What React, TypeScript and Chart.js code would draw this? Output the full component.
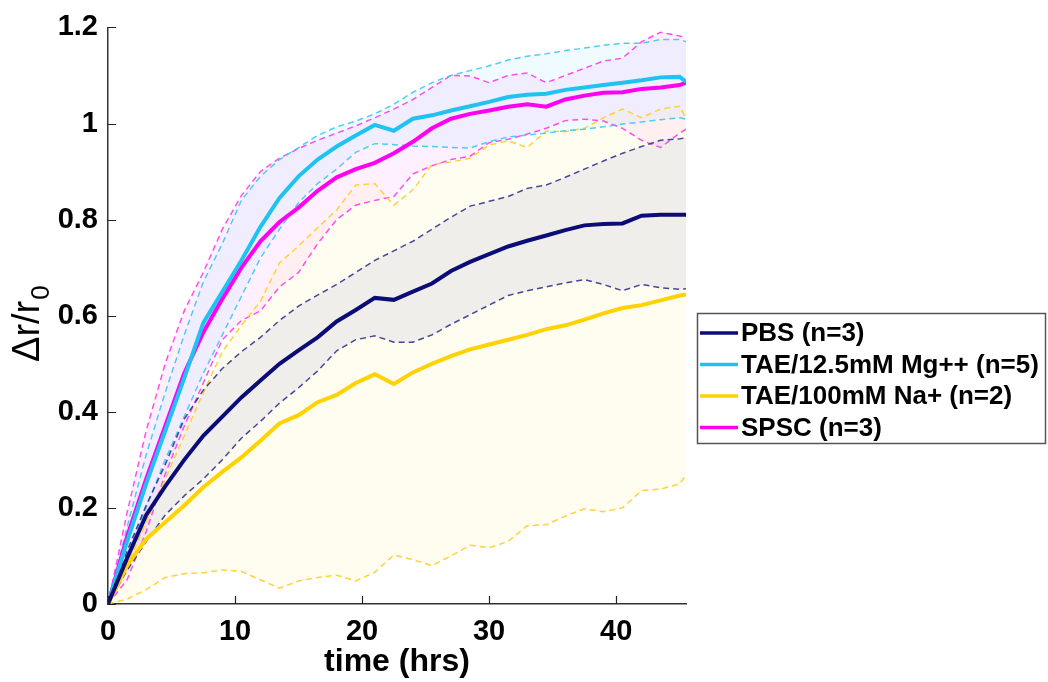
import React, { useEffect, useRef } from 'react';
import { Chart, registerables } from 'chart.js';

Chart.register(...registerables);

// ---------- data ----------
const hours = [0, 1.5, 3, 4.5, 6, 7.5, 9, 10.5, 12, 13.5, 15, 16.5, 18, 19.5, 21, 22.5, 24, 25.5, 27, 28.5, 30, 31.5, 33, 34.5, 36, 37.5, 39, 40.5, 42, 43.5, 45, 45.5];

const seriesLabels = ['PBS (n=3)', 'TAE/12.5mM Mg++ (n=5)', 'TAE/100mM Na+ (n=2)', 'SPSC (n=3)'];

const pbsMean = [0, 0.095, 0.185, 0.245, 0.3, 0.35, 0.39, 0.43, 0.465, 0.5, 0.528, 0.555, 0.588, 0.612, 0.637, 0.633, 0.65, 0.667, 0.693, 0.712, 0.728, 0.744, 0.756, 0.767, 0.778, 0.788, 0.791, 0.792, 0.808, 0.81, 0.81, 0.81];
const pbsUpper = [0, 0.11, 0.205, 0.29, 0.385, 0.445, 0.49, 0.525, 0.555, 0.59, 0.62, 0.643, 0.665, 0.69, 0.715, 0.735, 0.755, 0.78, 0.805, 0.828, 0.838, 0.848, 0.865, 0.872, 0.888, 0.905, 0.922, 0.938, 0.952, 0.965, 0.968, 0.97];
const pbsLower = [0, 0.07, 0.13, 0.185, 0.225, 0.26, 0.3, 0.345, 0.38, 0.418, 0.45, 0.485, 0.527, 0.55, 0.558, 0.545, 0.545, 0.56, 0.582, 0.602, 0.622, 0.642, 0.652, 0.66, 0.668, 0.675, 0.665, 0.652, 0.665, 0.658, 0.655, 0.656];

const mgMean = [0, 0.13, 0.25, 0.36, 0.47, 0.585, 0.65, 0.715, 0.785, 0.845, 0.89, 0.925, 0.952, 0.975, 0.997, 0.985, 1.01, 1.017, 1.027, 1.036, 1.045, 1.055, 1.06, 1.062, 1.07, 1.075, 1.08, 1.085, 1.09, 1.096, 1.097, 1.087];
const mgUpper = [0, 0.16, 0.31, 0.44, 0.56, 0.67, 0.75, 0.84, 0.89, 0.925, 0.95, 0.975, 0.993, 1.005, 1.02, 1.04, 1.065, 1.085, 1.1, 1.11, 1.12, 1.132, 1.14, 1.145, 1.152, 1.157, 1.163, 1.167, 1.167, 1.175, 1.175, 1.17];
const mgLower = [0, 0.1, 0.2, 0.3, 0.39, 0.48, 0.56, 0.64, 0.72, 0.78, 0.835, 0.875, 0.905, 0.94, 0.958, 0.956, 0.953, 0.952, 0.95, 0.949, 0.962, 0.972, 0.976, 0.98, 0.985, 0.988, 0.993, 0.999, 1.003, 1.008, 1.012, 1.009];

const naMean = [0, 0.08, 0.135, 0.17, 0.205, 0.243, 0.275, 0.305, 0.34, 0.376, 0.393, 0.42, 0.435, 0.46, 0.478, 0.458, 0.482, 0.5, 0.516, 0.53, 0.54, 0.55, 0.56, 0.572, 0.58, 0.592, 0.605, 0.616, 0.622, 0.632, 0.642, 0.644];
const naUpper = [0, 0.08, 0.17, 0.26, 0.35, 0.44, 0.525, 0.58, 0.63, 0.71, 0.745, 0.783, 0.82, 0.872, 0.875, 0.83, 0.862, 0.915, 0.92, 0.928, 0.955, 0.964, 0.95, 0.984, 0.983, 0.99, 1.012, 1.03, 1.012, 1.03, 1.036, 1.011];
const naLower = [0, 0.01, 0.03, 0.055, 0.063, 0.065, 0.071, 0.068, 0.05, 0.033, 0.048, 0.055, 0.06, 0.048, 0.066, 0.102, 0.092, 0.08, 0.1, 0.122, 0.117, 0.13, 0.163, 0.165, 0.183, 0.198, 0.192, 0.2, 0.236, 0.239, 0.25, 0.268];

const spscMean = [0, 0.14, 0.26, 0.37, 0.48, 0.565, 0.635, 0.7, 0.755, 0.795, 0.825, 0.86, 0.888, 0.905, 0.918, 0.938, 0.962, 0.99, 1.01, 1.02, 1.027, 1.035, 1.04, 1.035, 1.05, 1.058, 1.064, 1.065, 1.072, 1.075, 1.08, 1.085];
const spscUpper = [0, 0.19, 0.36, 0.5, 0.61, 0.69, 0.78, 0.85, 0.9, 0.928, 0.948, 0.965, 0.98, 0.995, 1.012, 1.03, 1.05, 1.075, 1.1, 1.099, 1.085, 1.1, 1.105, 1.085, 1.1, 1.115, 1.13, 1.136, 1.17, 1.19, 1.182, 1.178];
const spscLower = [0, 0.05, 0.15, 0.27, 0.37, 0.46, 0.55, 0.59, 0.61, 0.66, 0.69, 0.75, 0.8, 0.83, 0.84, 0.848, 0.895, 0.912, 0.925, 0.932, 0.96, 0.967, 0.978, 0.99, 1.006, 1.009, 1.005, 0.99, 0.965, 0.95, 0.98, 0.988];

const xMax = 45.5;
const xStep = 10;
const yMax = 1.2;
const yStep = 0.2;

// ---------- styles ----------
const lineColors = ['rgb(12,12,120)', 'rgb(30,195,242)', 'rgb(255,210,0)', 'rgb(255,0,240)'];
const dashColors = ['rgba(40,40,135,0.85)', 'rgba(60,200,245,0.9)', 'rgba(255,205,40,0.9)', 'rgba(255,60,235,0.9)'];
const fillColors = ['rgba(0,0,128,0.06)', 'rgba(0,191,255,0.06)', 'rgba(255,215,0,0.06)', 'rgba(255,0,255,0.06)'];
const FONT = "'Liberation Sans', Arial, Helvetica, sans-serif";

const groups = [
  { mean: pbsMean, upper: pbsUpper, lower: pbsLower },
  { mean: mgMean, upper: mgUpper, lower: mgLower },
  { mean: naMean, upper: naUpper, lower: naLower },
  { mean: spscMean, upper: spscUpper, lower: spscLower },
];

const toPts = (vals: number[]) => hours.map((h, i) => ({ x: h, y: vals[i] }));

const innerTicksPlugin = {
  id: 'innerTicks',
  afterDraw(chart: any) {
    const { ctx, chartArea } = chart;
    const xs = chart.scales.x;
    const ys = chart.scales.y;
    ctx.save();
    ctx.strokeStyle = '#222';
    ctx.lineWidth = 1.2;
    ctx.beginPath();
    xs.ticks.forEach((t: any) => {
      const px = Math.round(xs.getPixelForValue(t.value)) + 0.5;
      ctx.moveTo(px, chartArea.bottom);
      ctx.lineTo(px, chartArea.bottom - 8);
    });
    ys.ticks.forEach((t: any) => {
      const py = Math.round(ys.getPixelForValue(t.value)) + 0.5;
      ctx.moveTo(chartArea.left, py);
      ctx.lineTo(chartArea.left + 8, py);
    });
    ctx.stroke();
    ctx.restore();
  },
};

const legendPlugin = {
  id: 'boxLegend',
  afterDraw(chart: any) {
    const { ctx } = chart;
    const bx = 697, by = 313, bw = 348, bh = 130;
    ctx.save();
    ctx.fillStyle = '#fff';
    ctx.fillRect(bx, by, bw, bh);
    ctx.strokeStyle = '#555';
    ctx.lineWidth = 1.5;
    ctx.strokeRect(bx + 0.5, by + 0.5, bw, bh);
    ctx.font = `bold 26px ${FONT}`;
    ctx.textBaseline = 'middle';
    ctx.textAlign = 'left';
    for (let i = 0; i < 4; i++) {
      const ds = chart.data.datasets[i];
      const cy = 333 + i * 31.5;
      ctx.strokeStyle = ds.borderColor;
      ctx.lineWidth = 3.5;
      ctx.beginPath();
      ctx.moveTo(700, cy);
      ctx.lineTo(738, cy);
      ctx.stroke();
      ctx.fillStyle = '#000';
      ctx.fillText(ds.label, 741, cy + 1);
    }
    ctx.restore();
  },
};

const yTitlePlugin = {
  id: 'yTitle',
  afterDraw(chart: any) {
    const { ctx } = chart;
    ctx.save();
    ctx.translate(39, 362);
    ctx.rotate(-Math.PI / 2);
    ctx.fillStyle = '#000';
    ctx.textBaseline = 'alphabetic';
    ctx.textAlign = 'left';
    ctx.font = `38px ${FONT}`;
    const main = 'Δr/r';
    ctx.fillText(main, 0, 0);
    const w = ctx.measureText(main).width;
    ctx.font = `26px ${FONT}`;
    ctx.fillText('0', w + 1, 10);
    ctx.restore();
  },
};

export default function App() {
  const canvasRef = useRef<HTMLCanvasElement>(null);

  useEffect(() => {
    if (!canvasRef.current) return;
    const datasets: any[] = [];
    groups.forEach((g, i) => {
      datasets.push({
        label: seriesLabels[i],
        data: toPts(g.mean),
        borderColor: lineColors[i],
        borderWidth: 4,
        pointRadius: 0,
        fill: false,
        tension: 0,
      });
    });
    groups.forEach((g, i) => {
      const upperIdx = datasets.length;
      datasets.push({
        label: seriesLabels[i] + ' upper',
        data: toPts(g.upper),
        borderColor: dashColors[i],
        borderWidth: 1.5,
        borderDash: [6, 4],
        pointRadius: 0,
        tension: 0,
        fill: { target: upperIdx + 1, above: fillColors[i], below: fillColors[i] },
      });
      datasets.push({
        label: seriesLabels[i] + ' lower',
        data: toPts(g.lower),
        borderColor: dashColors[i],
        borderWidth: 1.5,
        borderDash: [6, 4],
        pointRadius: 0,
        tension: 0,
        fill: false,
      });
    });

    const chart = new Chart(canvasRef.current, {
      type: 'line',
      data: { datasets },
      options: {
        responsive: false,
        animation: false,
        layout: { padding: { left: 0, top: 26, right: 362, bottom: 0 } },
        plugins: {
          legend: { display: false },
          tooltip: { enabled: false },
          filler: { drawTime: 'beforeDatasetsDraw' },
        } as any,
        scales: {
          x: {
            type: 'linear',
            min: 0,
            max: xMax,
            grid: { display: false, drawTicks: false },
            border: { display: true, color: '#333', width: 1.5 },
            ticks: {
              stepSize: xStep,
              includeBounds: false,
              color: '#000',
              padding: 11,
              maxRotation: 0,
              font: { family: FONT, size: 29, weight: 'bold' },
            },
            title: {
              display: true,
              text: 'time (hrs)',
              color: '#000',
              font: { family: FONT, size: 32, weight: 'bold' },
              padding: { top: 0, bottom: 1 },
            },
            afterFit: (s: any) => { s.height = 78; },
          } as any,
          y: {
            type: 'linear',
            min: 0,
            max: yMax,
            grid: { display: false, drawTicks: false },
            border: { display: true, color: '#333', width: 1.5 },
            ticks: {
              stepSize: yStep,
              color: '#000',
              padding: 10,
              font: { family: FONT, size: 29, weight: 'bold' },
              callback: (v: any) => String(Number(Number(v).toFixed(1))),
            },
            afterFit: (s: any) => { s.width = 108; },
          } as any,
        },
      },
      plugins: [innerTicksPlugin, legendPlugin, yTitlePlugin],
    });
    return () => chart.destroy();
  }, []);

  return (
    <div style={{ position: 'absolute', left: 0, top: 0, width: 1048, height: 682, background: '#fff' }}>
      <canvas ref={canvasRef} width={1048} height={682} style={{ display: 'block' }} />
    </div>
  );
}
